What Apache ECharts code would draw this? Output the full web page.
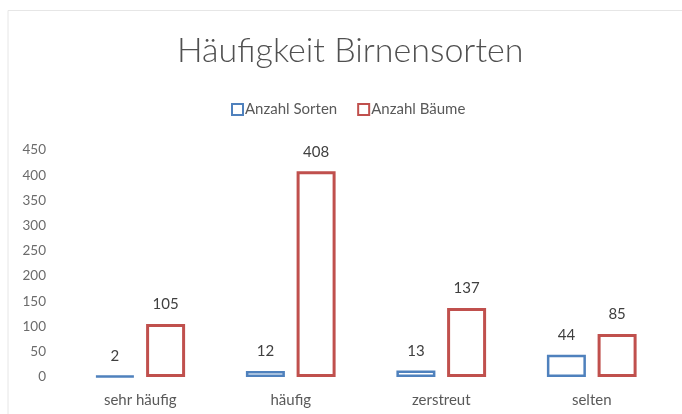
<!DOCTYPE html>
<html>
<head>
<meta charset="utf-8">
<script src="https://cdn.jsdelivr.net/npm/echarts@6/dist/echarts.min.js"></script>
<style>
  html, body { margin: 0; padding: 0; background: #fff; }
  #main { width: 682px; height: 414px; }
</style>
</head>
<body>
<div id="main"></div>
<script>
var categories = ['sehr häufig', 'häufig', 'zerstreut', 'selten'];
var sorten = [2, 12, 13, 44];
var baeume = [105, 408, 137, 85];

var myChart = echarts.init(document.getElementById('main'));
var fontFam = 'Lato, "Open Sans", sans-serif';

var option = {
    backgroundColor: '#fff',
    textStyle: { fontFamily: fontFam },
    title: {
        text: 'Häufigkeit Birnensorten',
        left: 172,
        top: 29,
        textStyle: {
            fontFamily: fontFam,
            fontSize: 34,
            fontWeight: 300,
            color: '#505050'
        }
    },
    legend: {
        top: 97,
        left: 226,
        itemWidth: 11,
        itemHeight: 11,
        itemGap: 20,
        icon: 'rect',
        textStyle: { fontFamily: fontFam, fontSize: 15, color: '#595959', padding: [0, 0, 0, -3] },
        data: ['Anzahl Sorten', 'Anzahl Bäume']
    },
    graphic: [{
        type: 'polyline',
        shape: { points: [[8, 414], [8, 10.5], [682, 10.5]] },
        style: { stroke: '#e6e6e6', lineWidth: 1, fill: null },
        silent: true
    }],
    grid: {
        left: 65,
        right: 15,
        top: 150,
        bottom: 37
    },
    xAxis: {
        type: 'category',
        data: categories,
        axisLine: { show: false },
        axisTick: { show: false },
        axisLabel: { fontFamily: fontFam, fontSize: 15, color: '#595959', margin: 16 }
    },
    yAxis: {
        type: 'value',
        min: 0,
        max: 450,
        interval: 50,
        splitLine: { show: false },
        axisLine: { show: false },
        axisTick: { show: false },
        axisLabel: { fontFamily: fontFam, fontSize: 13.5, color: '#6b6b6b', margin: 19 }
    },
    series: [{
        name: 'Anzahl Sorten',
        type: 'bar',
        barWidth: 39,
        barGap: '30%',
        data: sorten,
        itemStyle: { color: '#fff', borderColor: '#4f81bd', borderWidth: 2.5 },
        label: { show: true, position: 'top', distance: 12, fontFamily: fontFam, fontSize: 15, color: '#404040' }
    }, {
        name: 'Anzahl Bäume',
        type: 'bar',
        barWidth: 39,
        data: baeume,
        itemStyle: { color: '#fff', borderColor: '#c0504d', borderWidth: 3 },
        label: { show: true, position: 'top', distance: 12, fontFamily: fontFam, fontSize: 15, color: '#404040' }
    }]
};

myChart.setOption(option);
</script>
</body>
</html>
